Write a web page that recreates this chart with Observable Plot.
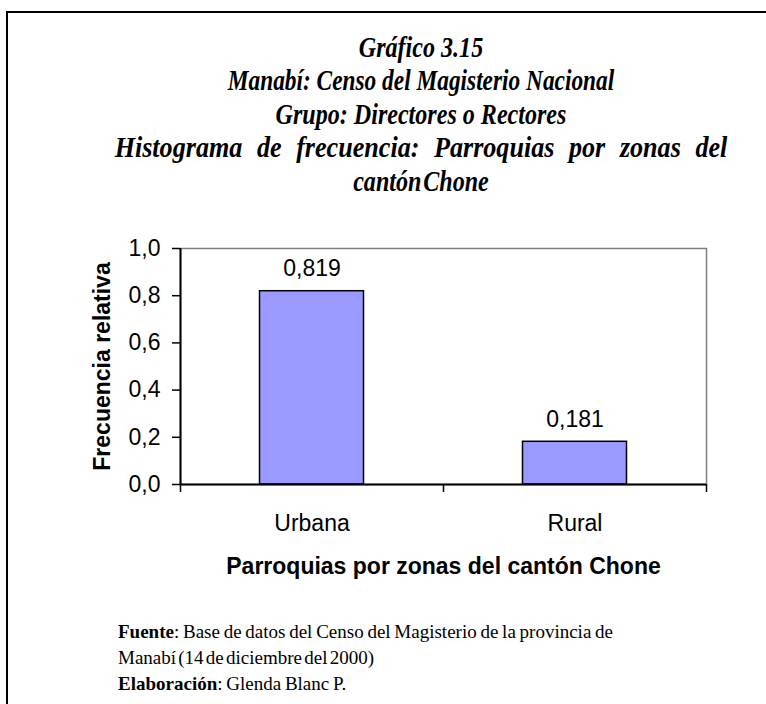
<!DOCTYPE html>
<html>
<head>
<meta charset="utf-8">
<script src="https://cdn.jsdelivr.net/npm/d3@7"></script>
<script src="https://cdn.jsdelivr.net/npm/@observablehq/plot@0.6"></script>
<style>
  html, body { margin: 0; padding: 0; background: #fff; }
  body { width: 766px; height: 704px; overflow: hidden; position: relative; }
  #frame { position: absolute; left: 6px; top: 11px; right: 0; bottom: -5px;
           border-top: 2px solid #000; border-left: 2px solid #000; }
  #title { position: absolute; left: 76px; top: 31px; width: 690px; text-align: center;
           font-family: "Liberation Serif", "Times New Roman", serif; font-style: italic; font-weight: bold;
           font-size: 29px; line-height: 33.4px; color: #000; }
  #title div { white-space: nowrap; transform-origin: 50% 50%; transform: scaleX(0.83); }
  #title div.l2 { transform: scaleX(0.805); }
  #title div.l4 { transform: scaleX(0.9); word-spacing: 9px; }
  #title div.l5 { word-spacing: -5px; }
  #chart { position: absolute; left: 8px; top: 200px; }
  #caption { position: absolute; left: 118px; top: 619px;
             font-family: "Liberation Serif", "Times New Roman", serif; font-size: 19px; line-height: 26px;
             word-spacing: -1px; color: #000; white-space: nowrap; }
  #caption .tight { word-spacing: -2.5px; }
</style>
</head>
<body>
<div id="frame"></div>
<div id="title">
  <div class="l1">Gráfico 3.15</div>
  <div class="l2">Manabí: Censo del Magisterio Nacional</div>
  <div class="l3">Grupo: Directores o Rectores</div>
  <div class="l4">Histograma de frecuencia: Parroquias por zonas del</div>
  <div class="l5">cantón Chone</div>
</div>
<div id="chart"></div>
<div id="caption"><b>Fuente</b>: Base de datos del Censo del Magisterio de la provincia de<br><span class="tight">Manabí (14 de diciembre del 2000)</span><br><b>Elaboración</b>: Glenda Blanc P.</div>
<script>
const categories = ["Urbana", "Rural"];
const frequencies = [0.819, 0.181];
const yTicks = [0, 0.2, 0.4, 0.6, 0.8, 1.0];
const xLabel = "Parroquias por zonas del cantón Chone";
const yLabel = "Frecuencia relativa";

const data = categories.map((c, i) => ({cat: c, i, v: frequencies[i]}));
const comma = (f) => (v) => d3.format(f)(v).replace(".", ",");

const chart = Plot.plot({
  width: 758, height: 400,
  marginLeft: 172, marginRight: 60, marginTop: 48, marginBottom: 116,
  style: {fontFamily: '"Liberation Sans", Arial, sans-serif', fontSize: "23px", color: "#000", background: "#fff", overflow: "visible"},
  x: {domain: [0, categories.length], axis: null},
  y: {domain: [0, 1], axis: null},
  marks: [
    Plot.frame({stroke: "#808080", strokeWidth: 1.5}),
    Plot.rect(data, {x1: "i", x2: d => d.i + 1, y1: 0, y2: "v", fill: "#9999ff", stroke: "#000", strokeWidth: 1.5, insetLeft: 79.5, insetRight: 79.5}),
    Plot.ruleY([0], {stroke: "#000", strokeWidth: 2}),
    Plot.ruleX([0], {stroke: "#000", strokeWidth: 2}),
    Plot.axisY({ticks: yTicks, tickFormat: comma(".1f"), tickSize: 8, tickPadding: 12, label: null, stroke: "#000", strokeWidth: 1.5, fill: "#000"}),
    Plot.axisX({ticks: d3.range(categories.length + 1), tickFormat: () => "", tickSize: 8, tickPadding: 0, label: null, stroke: "#000", strokeWidth: 1.5}),
    Plot.axisX({ticks: data.map(d => d.i + 0.5), tickFormat: v => categories[Math.floor(v)], tickSize: 0, tickPadding: 30, label: null, fill: "#000"}),
    Plot.text(data, {x: d => d.i + 0.5, y: "v", text: d => comma(".3f")(d.v), lineAnchor: "bottom", dy: -15, fill: "#000"}),
    Plot.text([yLabel], {frameAnchor: "left", text: d => d, rotate: -90, textAnchor: "middle", dx: -78, fontWeight: "bold", fill: "#000"}),
    Plot.text([xLabel], {frameAnchor: "bottom", text: d => d, dy: 89, fontWeight: "bold", fill: "#000"})
  ]
});
document.getElementById("chart").appendChild(chart);
</script>
</body>
</html>
